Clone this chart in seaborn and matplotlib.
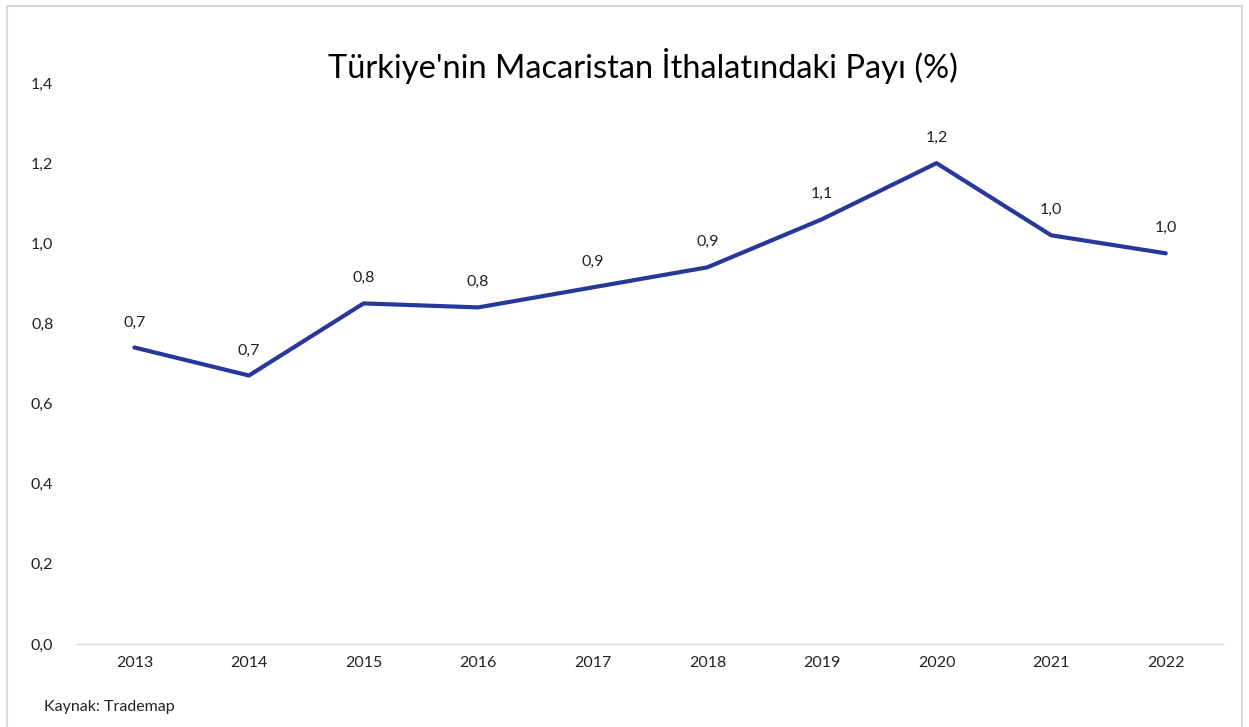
import matplotlib
matplotlib.use("Agg")
import matplotlib.pyplot as plt
import seaborn as sns
import pandas as pd
from matplotlib.patches import Rectangle

years = ["2013", "2014", "2015", "2016", "2017", "2018", "2019", "2020", "2021", "2022"]
share = [0.74, 0.67, 0.85, 0.84, 0.89, 0.94, 1.06, 1.20, 1.02, 0.975]
y_ticks = [0.0, 0.2, 0.4, 0.6, 0.8, 1.0, 1.2, 1.4]

df = pd.DataFrame({"yil": years, "pay": share})

sns.set_theme(style="white")
plt.rcParams["font.family"] = ["Lato", "DejaVu Sans"]

fig = plt.figure(figsize=(12.49, 7.27), dpi=100)
ax = fig.add_axes([0.0617, 0.1142, 0.9175, 0.7716])

sns.lineplot(data=df, x="yil", y="pay", ax=ax, color="#27389A",
             linewidth=3.0, sort=False)

for i, v in enumerate(share):
    ax.annotate(f"{v:.1f}".replace(".", ","), (i, v), xytext=(0, 13),
                textcoords="offset points", ha="center", va="bottom",
                fontsize=11.5, color="#222222")

ax.set_xlim(-0.5, len(years) - 0.5)
ax.set_ylim(0, 1.4)
ax.set_yticks(y_ticks)
ax.set_yticklabels([f"{t:.1f}".replace(".", ",") for t in y_ticks])
ax.set_xlabel("")
ax.set_ylabel("")
ax.tick_params(axis="both", length=0, labelsize=11.5, colors="#222222")
ax.tick_params(axis="y", pad=17)
ax.tick_params(axis="x", pad=9)
for s in ["top", "right", "left"]:
    ax.spines[s].set_visible(False)
ax.spines["bottom"].set_color("#d9d9d9")
ax.spines["bottom"].set_linewidth(1.0)

fig.text(0.515, 0.909, "Türkiye'nin Macaristan İthalatındaki Payı (%)",
         ha="center", va="center", fontsize=23.5, color="#000000")
fig.text(0.035, 0.028, "Kaynak: Trademap", ha="left", va="center",
         fontsize=11.5, color="#222222")

fig.patches.append(Rectangle((0.0056, -0.01), 0.989, 1.002,
                             transform=fig.transFigure, fill=False,
                             edgecolor="#d9d9d9", linewidth=1.5))

fig.savefig("out.png", dpi=100)
